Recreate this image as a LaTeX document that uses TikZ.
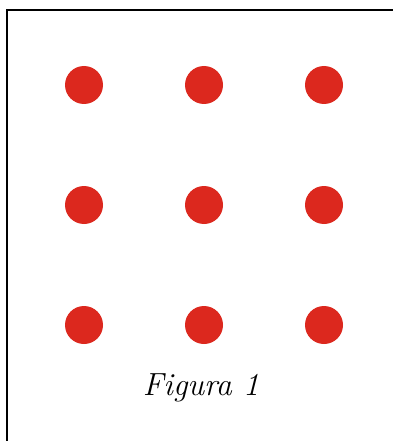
\documentclass[tikz,border=0pt]{standalone}
\definecolor{dotred}{RGB}{220,40,30}
\begin{document}
\begin{tikzpicture}[x=1pt,y=-1pt,
  dot/.style={circle,fill=dotred,inner sep=0pt,minimum size=38pt},
  frame/.style={line width=2.8pt,black},
  caption/.style={font=\fontsize{32}{40}\selectfont\itshape,inner sep=0pt}]
\useasboundingbox (0,0) rectangle (393,441);
\draw[frame] (7,441) -- (7,10) -- (393,10);
\foreach \r in {1,2,3}{
  \foreach \c in {1,2,3}{
    \node[dot] (d\r\c) at ({84+120*(\c-1)},{85+120*(\r-1)}) {};
  }
}
\node[caption] (cap) at (201,388) {Figura 1};
\end{tikzpicture}
\end{document}
